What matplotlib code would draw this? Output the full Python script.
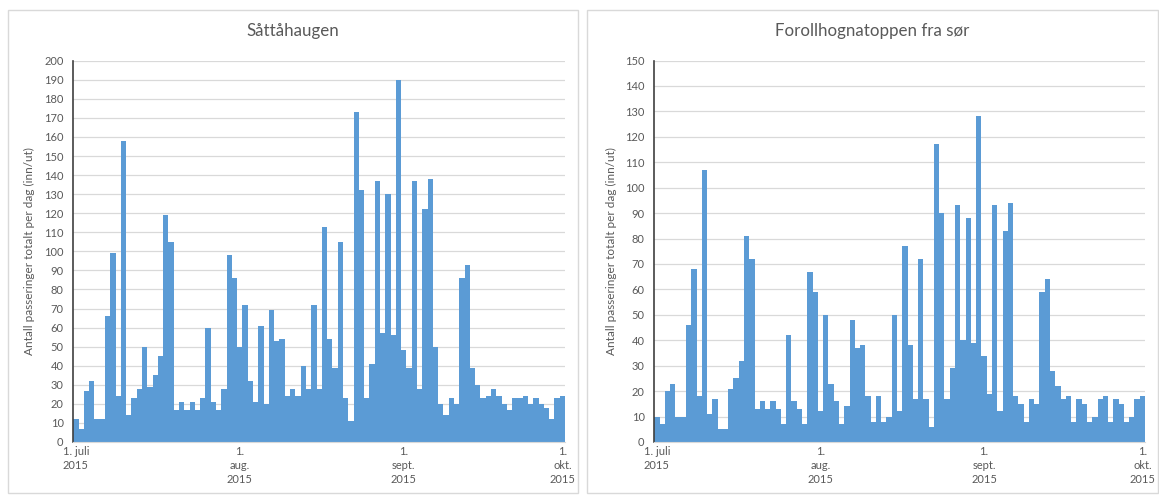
import matplotlib
matplotlib.use('Agg')
import matplotlib.pyplot as plt
import numpy as np
import pandas as pd
from matplotlib.patches import Rectangle

plt.rcParams['font.family'] = ['Lato', 'DejaVu Sans']

# Data: daily passages, 1 July 2015 - 1 Oct 2015
datoer = pd.date_range('2015-07-01', '2015-10-01', freq='D')

sattahaugen = [
    12, 7, 27, 32, 12, 12, 66, 99, 24, 158,
    14, 23, 28, 50, 29, 35, 45, 119, 105, 17,
    21, 17, 21, 17, 23, 60, 21, 17, 28, 98,
    86, 50, 72, 32, 21, 61, 20, 69, 53, 54,
    24, 28, 24, 40, 28, 72, 28, 113, 54, 39,
    105, 23, 11, 173, 132, 23, 41, 137, 57, 130,
    56, 190, 48, 39, 137, 28, 122, 138, 50, 20,
    14, 23, 20, 86, 93, 39, 30, 23, 24, 28,
    24, 20, 17, 23, 23, 24, 20, 23, 20, 18,
    12, 23, 24,
]

forollhogna = [
    10, 7, 20, 23, 10, 10, 46, 68, 18, 107,
    11, 17, 5, 5, 21, 25, 32, 81, 72, 13,
    16, 13, 16, 13, 7, 42, 16, 13, 7, 67,
    59, 12, 50, 23, 16, 7, 14, 48, 37, 38,
    18, 8, 18, 8, 10, 50, 12, 77, 38, 17,
    72, 17, 6, 117, 90, 17, 29, 93, 40, 88,
    39, 128, 34, 19, 93, 12, 83, 94, 18, 15,
    8, 17, 15, 59, 64, 28, 22, 17, 18, 8,
    17, 15, 8, 10, 17, 18, 8, 17, 15, 8,
    10, 17, 18,
]

titler = ['Såttåhaugen', 'Forollhognatoppen fra sør']
ymaks = [200, 150]
tick_datoer = ['2015-07-01', '2015-08-01', '2015-09-01', '2015-10-01']
tick_tekst = ['1. juli\n2015', '1.\naug.\n2015', '1.\nsept.\n2015', '1.\nokt.\n2015']
ylabel = 'Antall passeringer totalt per dag (inn/ut)'

farge = '#5b9bd5'
tekstfarge = '#595959'

fig = plt.figure(figsize=(11.59, 4.95), dpi=100)
W, H = 1159, 495

# panel frames (px)
rammer = [(8, 10, 578, 493), (587, 10, 1158, 493)]
for x0, y0, x1, y1 in rammer:
    fig.patches.append(Rectangle((x0 / W, 1 - y1 / H), (x1 - x0) / W, (y1 - y0) / H,
                                 transform=fig.transFigure, fill=False,
                                 edgecolor='#d9d9d9', linewidth=1))

# plot areas (px)
omr = [(73.3, 565, 442, 60.7), (654.3, 1145, 442, 60.5)]
serier = [sattahaugen, forollhogna]

x = np.arange(len(datoer))
tick_pos = [list(datoer).index(pd.Timestamp(d)) for d in tick_datoer]

for i in range(2):
    xl, xr, yb, yt = omr[i]
    ax = fig.add_axes([xl / W, 1 - yb / H, (xr - xl) / W, (yb - yt) / H])
    ax.bar(x, serier[i], width=1.0, color=farge, linewidth=0, zorder=2)
    ax.set_xlim(-0.5, len(x) - 0.5)
    ax.set_ylim(0, ymaks[i])
    ax.set_yticks(np.arange(0, ymaks[i] + 1, 10))
    ax.yaxis.grid(True, color='#d9d9d9', linewidth=0.9)
    ax.set_axisbelow(True)
    ax.set_xticks(tick_pos)
    ax.set_xticklabels(tick_tekst, fontsize=8, color=tekstfarge, linespacing=1.35,
                       va='top', ma='center')
    ax.tick_params(axis='both', length=0, labelsize=8, labelcolor=tekstfarge)
    ax.tick_params(axis='y', pad=7)
    ax.tick_params(axis='x', pad=3)
    for s in ['top', 'right']:
        ax.spines[s].set_visible(False)
    ax.spines['bottom'].set_color('#d9d9d9')
    ax.spines['left'].set_color('#404040')
    ax.spines['left'].set_linewidth(1.2)
    ax.set_ylabel(ylabel, fontsize=8.5, color=tekstfarge)
    ax.yaxis.set_label_coords((35 + 582 * i - xl) / (xr - xl), 0.5)
    x0, y0, x1, y1 = rammer[i]
    fig.text((x0 + x1) / 2 / W, 1 - 31 / H, titler[i], ha='center', va='center',
             fontsize=12.2, color=tekstfarge)

plt.savefig('out.png', dpi=100)
